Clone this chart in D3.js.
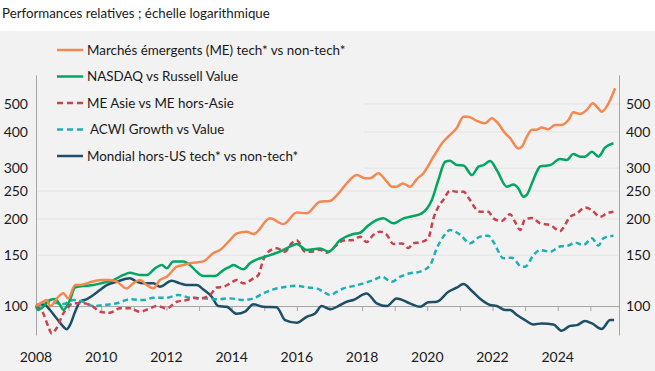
<!DOCTYPE html>
<html><head><meta charset="utf-8">
<script src="https://cdn.jsdelivr.net/npm/d3@7"></script>
<style>
body{margin:0;background:#fff;}
svg text{font-family:Lato,"Open Sans",sans-serif;fill:#1a1a1a;}
</style></head>
<body><svg id="chart" width="655" height="371"></svg>
<script>
const title = "Performances relatives ; échelle logarithmique";
const seriesNames = ["Marchés émergents (ME) tech* vs non-tech*", "NASDAQ vs Russell Value", "ME Asie vs ME hors-Asie", " ACWI Growth vs Value", "Mondial hors-US tech* vs non-tech*"];
const seriesColors = ["#f4884f", "#00a661", "#c9434c", "#1bb0b3", "#1d4f68"];
const seriesDashed = [false, false, true, true, false];
const yTickValues = [100, 150, 200, 250, 300, 400, 500];
const gridValues = [150, 200, 250, 300, 400, 500];
const xLabelYears = [2008, 2010, 2012, 2014, 2016, 2018, 2020, 2022, 2024];

// [decimal year, index value]
const emTech = [[2008.00,100],[2008.22,103.5],[2008.33,104.9],[2008.43,100],[2008.74,109.2],[2008.84,110.7],[2008.99,106.3],[2009.20,118.2],[2009.35,118.2],[2009.56,119.8],[2009.71,121.4],[2010.02,123.0],[2010.27,123.0],[2010.48,121.4],[2010.78,115.1],[2010.98,119.8],[2011.19,123.0],[2011.40,118.2],[2011.60,115.1],[2011.80,123.0],[2012.01,126.3],[2012.32,136.8],[2012.52,138.6],[2012.72,140.6],[2013.13,142.7],[2013.44,152.5],[2013.64,156.2],[2013.95,169.2],[2014.16,178.4],[2014.46,180.8],[2014.67,177.4],[2015.18,201.1],[2015.59,192.2],[2016.00,210.7],[2016.30,209.4],[2016.71,229.6],[2017.02,230.9],[2017.23,241.9],[2017.53,265.9],[2017.84,283.9],[2018.09,276.9],[2018.25,276.9],[2018.50,288.1],[2018.76,269.2],[2018.91,258.6],[2019.06,258.6],[2019.25,265.7],[2019.47,258.6],[2019.68,275.1],[2019.88,288.1],[2020.19,328.6],[2020.49,370.4],[2020.70,391],[2020.90,412],[2021.11,452],[2021.26,452],[2021.52,437],[2021.77,429],[2021.98,446],[2022.13,434],[2022.39,396],[2022.54,381],[2022.79,351],[2022.90,356],[2023.05,385],[2023.21,407],[2023.36,407],[2023.51,415],[2023.71,409],[2023.92,423],[2024.12,423],[2024.33,440],[2024.48,468],[2024.69,462],[2024.89,477],[2025.08,503],[2025.20,490],[2025.35,470],[2025.56,503],[2025.76,567]];
const nasdaqRv = [[2008.00,100],[2008.07,96.9],[2008.22,99.4],[2008.43,104.9],[2008.58,105.7],[2008.74,100.8],[2008.84,96.9],[2009.04,104.9],[2009.20,116.1],[2009.45,117.2],[2009.76,118.2],[2010.06,120.4],[2010.37,123.0],[2010.68,128.1],[2010.88,130.3],[2011.19,128.1],[2011.40,128.1],[2011.65,135.0],[2011.86,138.6],[2012.01,135.0],[2012.21,142.7],[2012.52,142.7],[2012.72,138.6],[2012.93,131.5],[2013.13,127.0],[2013.49,127.0],[2013.75,133.2],[2013.95,136.8],[2014.05,138.6],[2014.36,134.0],[2014.56,140.6],[2014.87,146.3],[2015.18,150.1],[2015.48,154.2],[2015.79,160.6],[2016.00,164.0],[2016.30,156.2],[2016.71,158.3],[2016.97,154.2],[2017.33,169.2],[2017.73,177.5],[2017.94,179.3],[2018.19,190.1],[2018.65,201.1],[2018.96,193.3],[2019.27,201.1],[2019.47,203.6],[2019.83,209.3],[2020.14,232.7],[2020.34,272.9],[2020.55,315.7],[2020.70,318.3],[2020.90,307.3],[2021.11,306.5],[2021.37,283.9],[2021.57,303.6],[2021.72,307.3],[2021.93,317.5],[2022.13,295.6],[2022.44,258.6],[2022.64,263.2],[2022.79,255.5],[2022.95,239.0],[2023.05,242.4],[2023.21,265.9],[2023.36,291.6],[2023.46,304.0],[2023.77,307.3],[2024.07,322.7],[2024.28,320.1],[2024.48,335.8],[2024.69,328.8],[2024.84,328.8],[2025.05,342.0],[2025.25,328.8],[2025.45,353.0],[2025.71,365.7]];
const emAsia = [[2008.00,100],[2008.22,94.4],[2008.38,84.8],[2008.48,80.4],[2008.63,83.8],[2008.84,94.4],[2008.99,99.4],[2009.14,102.2],[2009.45,102.2],[2009.76,99.4],[2009.96,95.6],[2010.27,94.8],[2010.58,98.2],[2010.88,98.2],[2011.19,95.6],[2011.50,98.2],[2011.70,100],[2012.01,98.2],[2012.32,103.5],[2012.62,104.9],[2012.83,106.8],[2013.03,106.3],[2013.34,109.2],[2013.54,115.9],[2013.75,116.6],[2013.95,119.8],[2014.16,123.0],[2014.36,119.8],[2014.67,124.7],[2014.82,128.0],[2014.97,144.3],[2015.13,154.2],[2015.38,158.4],[2015.64,154.2],[2015.84,164.9],[2016.00,168.5],[2016.25,154.2],[2016.46,154.2],[2016.71,156.6],[2016.92,152.9],[2017.17,160.6],[2017.43,168.5],[2017.73,169.2],[2017.94,173.8],[2018.14,166.5],[2018.35,176.4],[2018.55,180.9],[2018.76,176.4],[2018.96,164.0],[2019.22,164.6],[2019.42,158.8],[2019.57,164.9],[2019.78,166.0],[2020.03,171.5],[2020.19,201.1],[2020.34,220.5],[2020.49,232.7],[2020.70,251.0],[2020.90,248.6],[2021.11,248.6],[2021.31,232.7],[2021.52,214.9],[2021.62,212.0],[2021.87,212.0],[2022.03,201.1],[2022.28,196.8],[2022.54,207.8],[2022.69,195.7],[2022.85,183.2],[2023.00,200.0],[2023.21,201.6],[2023.46,193.3],[2023.77,190.5],[2024.07,181.8],[2024.38,203.6],[2024.59,209.3],[2024.84,219.2],[2025.05,214.4],[2025.30,203.6],[2025.51,209.3],[2025.71,212.0]];
const acwiGv = [[2008.00,100],[2008.22,102.2],[2008.43,103.2],[2008.84,101.6],[2009.14,104.9],[2009.45,103.5],[2009.76,100],[2010.06,100.8],[2010.48,102.2],[2010.88,105.5],[2011.29,104.9],[2011.60,106.8],[2012.01,106.8],[2012.37,109.2],[2012.72,106.8],[2013.13,106.3],[2013.54,105.5],[2013.95,106.3],[2014.36,104.9],[2014.67,106.3],[2014.97,110.6],[2015.28,114.2],[2015.69,116.6],[2016.00,117.5],[2016.30,116.1],[2016.61,115.1],[2016.81,112.1],[2017.02,109.2],[2017.23,112.1],[2017.43,115.1],[2017.73,117.2],[2018.04,119.8],[2018.35,123.0],[2018.60,126.3],[2018.91,121.4],[2019.17,126.3],[2019.47,129.8],[2019.78,131.5],[2020.09,138.6],[2020.29,158.3],[2020.49,173.6],[2020.70,183.2],[2021.01,176.4],[2021.31,164.9],[2021.62,173.8],[2021.87,175.2],[2022.03,166.5],[2022.34,146.3],[2022.59,147.0],[2022.90,136.8],[2023.00,136.8],[2023.26,150.1],[2023.46,156.2],[2023.77,154.2],[2024.07,160.6],[2024.33,161.9],[2024.53,165.8],[2024.79,162.8],[2025.05,171.5],[2025.25,161.9],[2025.40,171.5],[2025.71,175.2]];
const worldExUs = [[2008.00,100],[2008.12,101.4],[2008.28,100.8],[2008.43,96.9],[2008.63,90.7],[2008.84,84.8],[2008.94,83.1],[2009.04,85.9],[2009.20,95.6],[2009.35,103.5],[2009.56,105.7],[2009.76,109.2],[2009.96,113.6],[2010.17,118.2],[2010.48,121.4],[2010.88,124.7],[2011.09,121.4],[2011.29,119.8],[2011.60,119.8],[2011.80,116.6],[2012.16,122.3],[2012.42,119.8],[2012.62,118.2],[2012.93,118.2],[2013.13,114.2],[2013.39,107.7],[2013.59,100],[2013.85,99.4],[2014.16,94.0],[2014.41,95.6],[2014.67,101.4],[2014.97,99.4],[2015.38,99.0],[2015.64,89.4],[2016.00,87.5],[2016.30,91.8],[2016.56,94.2],[2016.76,100],[2017.02,97.4],[2017.27,100],[2017.53,103.5],[2017.73,104.9],[2018.14,110.6],[2018.45,102.2],[2018.76,100],[2019.06,106.3],[2019.48,102.0],[2019.78,99.4],[2020.03,103.0],[2020.29,103.5],[2020.65,112.1],[2020.90,115.7],[2021.11,119.1],[2021.37,112.7],[2021.67,104.9],[2021.93,100.8],[2022.13,100],[2022.39,96.9],[2022.54,96.9],[2022.75,93.1],[2023.00,89.4],[2023.26,86.4],[2023.51,87.1],[2023.87,86.4],[2024.12,82.1],[2024.38,85.4],[2024.59,85.9],[2024.84,88.7],[2025.05,87.1],[2025.35,83.3],[2025.61,89.4],[2025.73,89.4]];
const allSeries = [emTech, nasdaqRv, emAsia, acwiGv, worldExUs];

const svg = d3.select("#chart");
svg.append("rect").attr("x",0).attr("y",31).attr("width",655).attr("height",340).attr("fill","#f2f2f2");
svg.append("text").attr("x",2).attr("y",17.5).style("font-size","13.3px").text(title);

const x = d3.scaleLinear().domain([2008, 2025.88]).range([36, 619]);
const y = d3.scaleLog().domain([79.4, 630]).range([335, 75]);

// gridlines
svg.append("g").selectAll("line").data(gridValues).join("line")
  .attr("x1", 36).attr("x2", 619).attr("y1", d=>y(d)).attr("y2", d=>y(d))
  .attr("stroke", "#e3e3e3").attr("stroke-width", 1);

// legend background covering gridlines
svg.append("rect").attr("x",37).attr("y",34).attr("width",327).attr("height",142).attr("fill","#f2f2f2");

// x axis at 100
const xAxis = d3.axisBottom(x).tickValues(d3.range(2009, 2026)).tickSize(5).tickFormat("");
const gx = svg.append("g").attr("transform", `translate(0,${y(100)})`).call(xAxis);
gx.select(".domain").attr("stroke","#a6a6a6");
gx.selectAll(".tick line").attr("stroke","#a6a6a6");
svg.append("g").selectAll("text").data(xLabelYears).join("text")
  .attr("x", d=>x(d)).attr("y", 361.5).attr("text-anchor","middle").style("font-size","14px").text(d=>d);

// left & right y axes
const yl = d3.axisLeft(y).tickValues(yTickValues).tickSize(0).tickPadding(8).tickFormat(d3.format("d"));
const gl = svg.append("g").attr("transform","translate(36,0)").call(yl);
const yr = d3.axisRight(y).tickValues(yTickValues).tickSize(0).tickPadding(7).tickFormat(d3.format("d"));
const gr = svg.append("g").attr("transform","translate(619,0)").call(yr);
[gl, gr].forEach(g => {
  g.select(".domain").attr("stroke","#a6a6a6");
  g.selectAll("text").style("font-size","14px").style("font-family","Lato, sans-serif").attr("fill","#1a1a1a");
});

// series
const line = d3.line().x(d=>x(d[0])).y(d=>y(d[1])).curve(d3.curveMonotoneX);
const order = [4, 3, 2, 1, 0];
order.forEach(i => {
  svg.append("path").datum(allSeries[i]).attr("d", line).attr("fill","none")
    .attr("stroke", seriesColors[i]).attr("stroke-width", 2.5)
    .attr("stroke-dasharray", seriesDashed[i] ? "5.5,3.5" : null)
    .attr("stroke-linejoin","round");
});

// legend
const legY = [50, 76.5, 103, 129.5, 156];
const lg = svg.append("g");
seriesNames.forEach((n, i) => {
  lg.append("line").attr("x1",57).attr("x2",83).attr("y1",legY[i]).attr("y2",legY[i])
    .attr("stroke", seriesColors[i]).attr("stroke-width", 2.5)
    .attr("stroke-dasharray", seriesDashed[i] ? "6,4" : null);
  lg.append("text").attr("x",87).attr("y",legY[i]+4.6).style("font-size","13.4px")
    .style("white-space","pre").text(n);
});
</script></body></html>
